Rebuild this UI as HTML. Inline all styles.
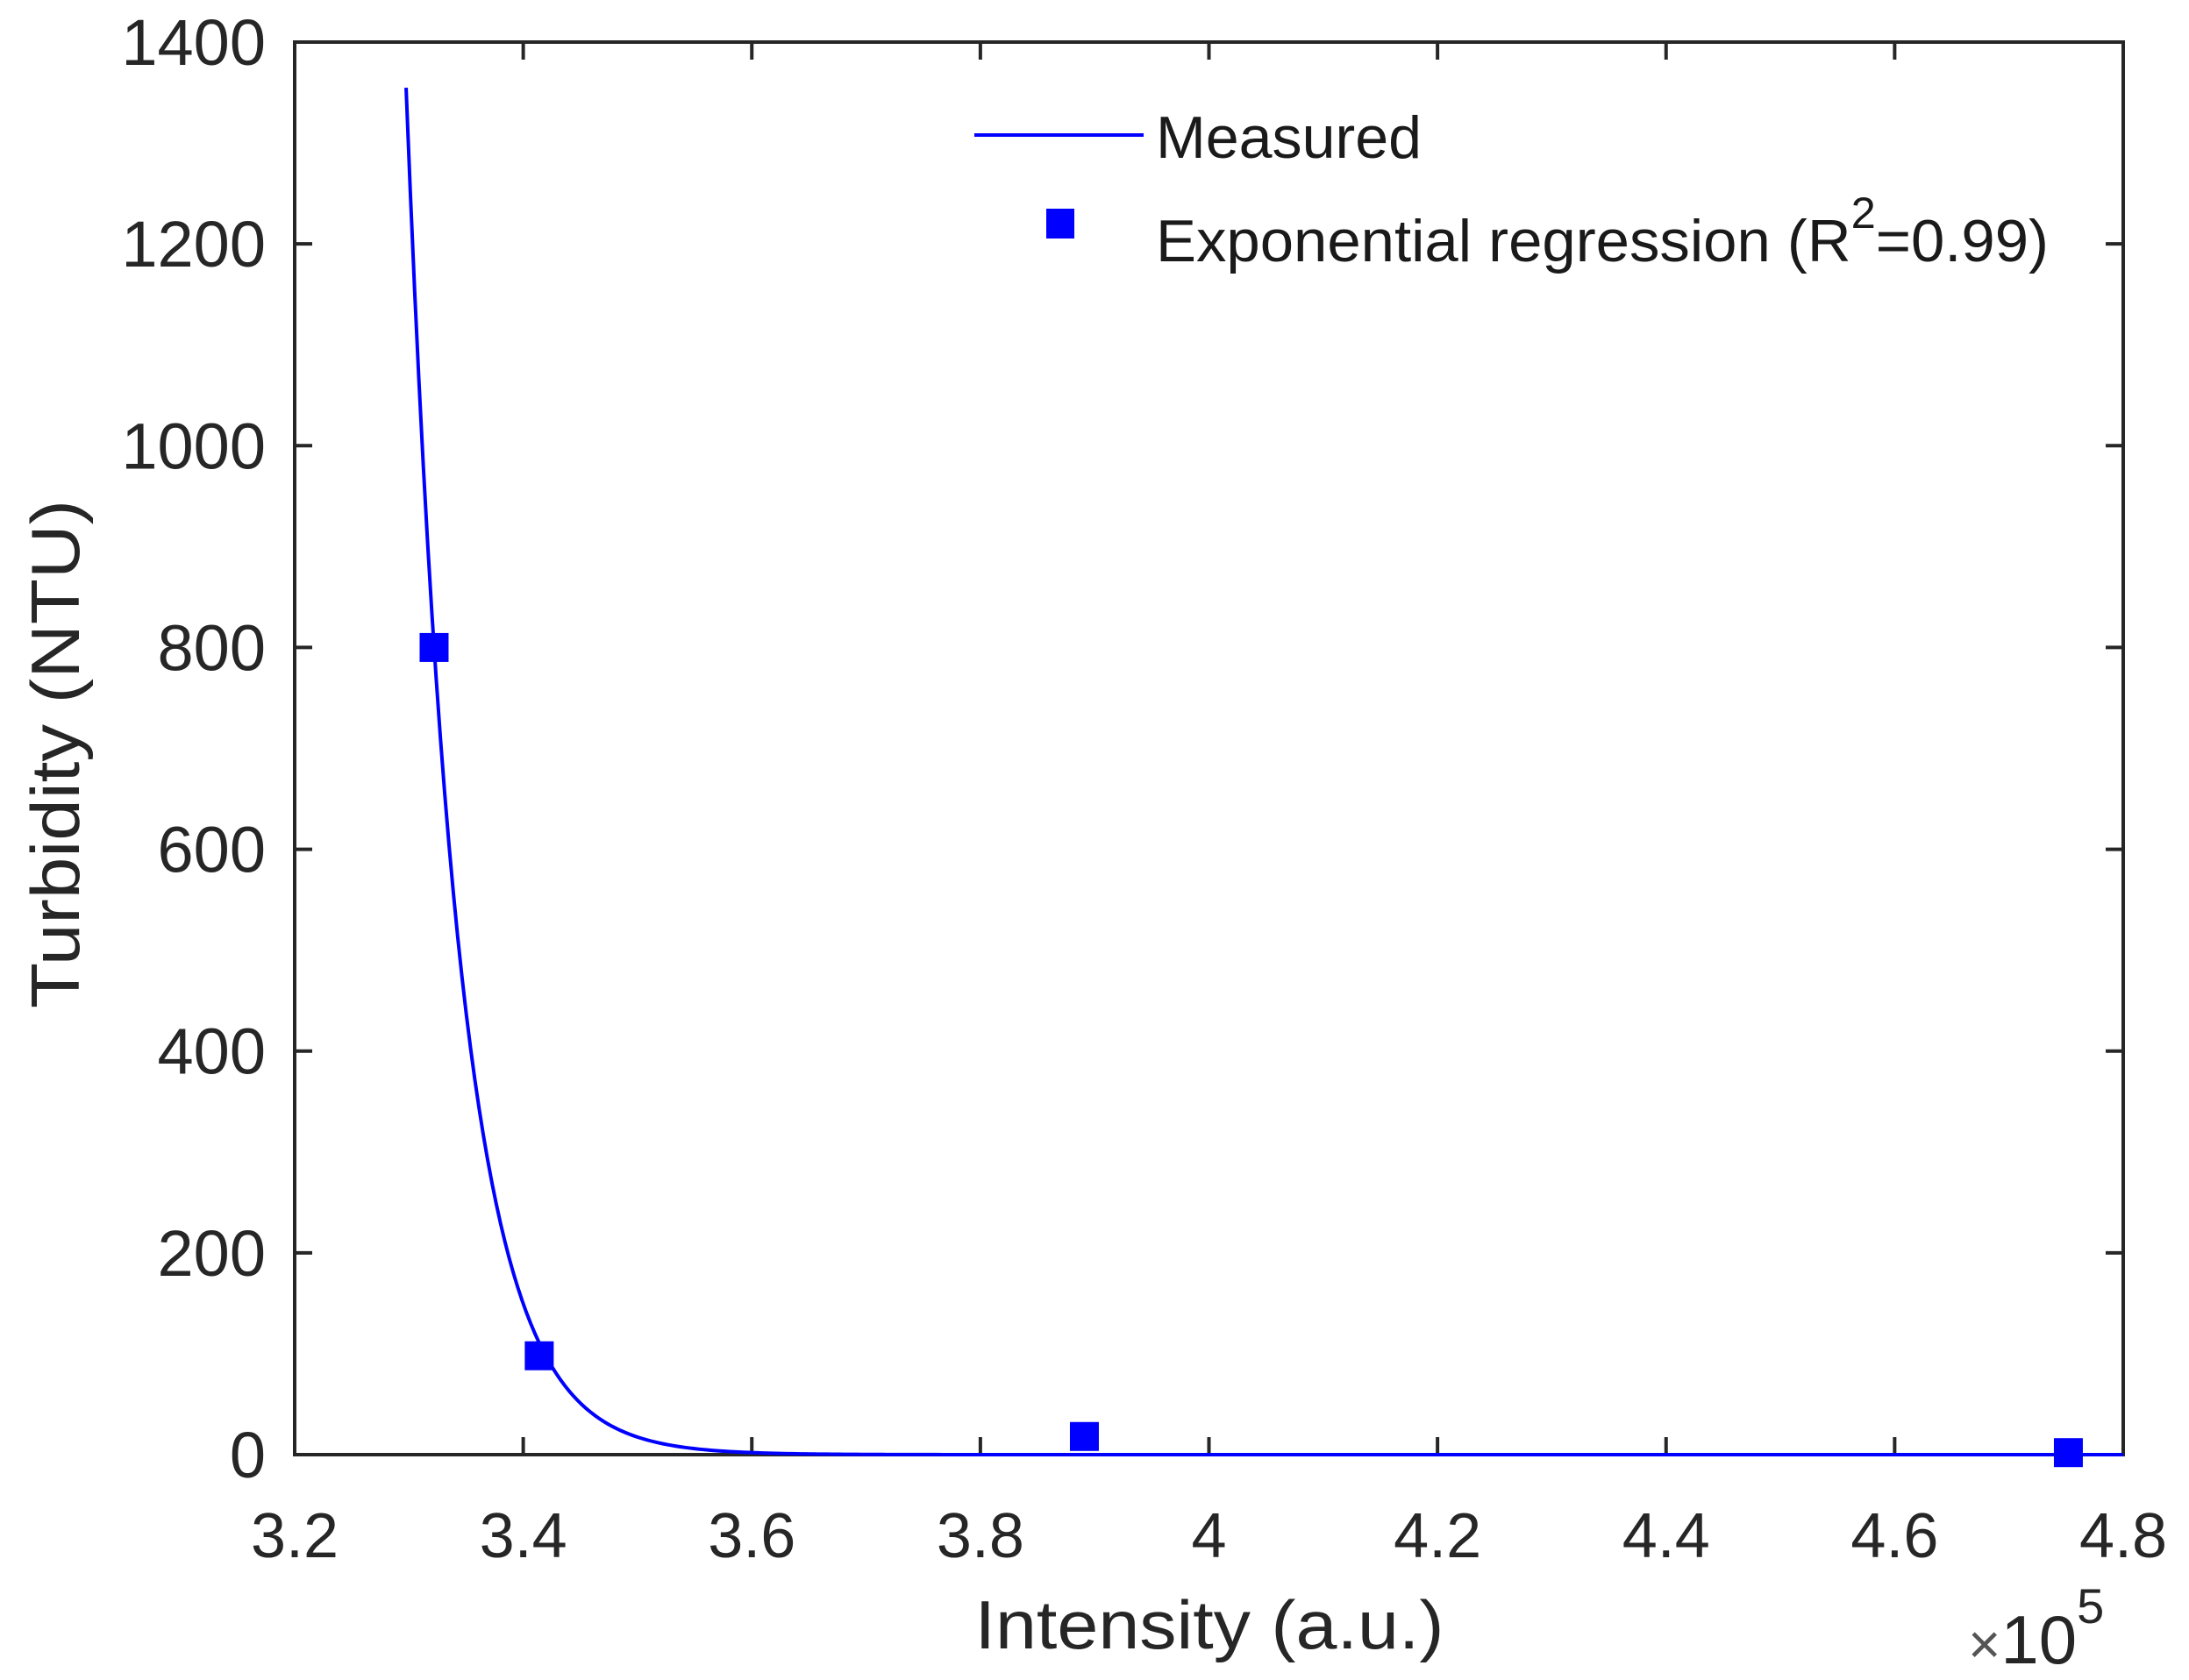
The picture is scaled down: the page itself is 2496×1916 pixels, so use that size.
<!DOCTYPE html>
<html><head><meta charset="utf-8"><style>
html,body{margin:0;padding:0;background:#fff;}
svg{display:block;font-family:"Liberation Sans",Arial,sans-serif;}
</style></head><body>
<svg id="chart" width="2496" height="1916" viewBox="0 0 2496 1916">
<g id="axes"></g>
<g id="series"></g>
<g id="legend">
  <line x1="1111" y1="154" x2="1304" y2="154" stroke="#0000ff" stroke-width="4"/>
  <text x="1318" y="180" font-size="68" fill="#1a1a1a" textLength="303" lengthAdjust="spacingAndGlyphs">Measured</text>
  <rect x="1193" y="238" width="32" height="34" fill="#0000ff"/>
  <text x="1318" y="298" font-size="68" fill="#1a1a1a" textLength="1018" lengthAdjust="spacingAndGlyphs"><tspan>Exponential regression (R</tspan><tspan dy="-38" font-size="50">2</tspan><tspan dy="38">=0.99)</tspan></text>
</g>
<text x="90" y="860" font-size="78" fill="#262626" text-anchor="middle" transform="rotate(-90 90 860)" textLength="580" lengthAdjust="spacingAndGlyphs">Turbidity (NTU)</text>
<text x="1379" y="1880" font-size="78" fill="#262626" text-anchor="middle" textLength="535" lengthAdjust="spacingAndGlyphs">Intensity (a.u.)</text>
<text x="2244" y="1897" font-size="78" fill="#262626"><tspan font-size="64" fill="#555">×</tspan><tspan>10</tspan><tspan dy="-46" font-size="56">5</tspan></text>
</svg>
<script>
const xTicks = [3.2,3.4,3.6,3.8,4.0,4.2,4.4,4.6,4.8];
const xTickLabels = ["3.2","3.4","3.6","3.8","4","4.2","4.4","4.6","4.8"];
const yTicks = [0,200,400,600,800,1000,1200,1400];
const yTickLabels = ["0","200","400","600","800","1000","1200","1400"];
const pointX = [3.322,3.414,3.891,4.752];
const pointY = [800,98,18,2];
// regression curve parameters: y = fitA * exp(-fitK*(x - fitX0))
const fitA = [800];
const fitX0 = [3.322];
const fitK = [21.5];
const curveRange = [3.2975,4.8];

const L=336,R=2421,T=48,B=1659;
const xMin=3.2,xMax=4.8,yMin=0,yMax=1400;
const sx=v=>L+(v-xMin)/(xMax-xMin)*(R-L);
const sy=v=>B-(v-yMin)/(yMax-yMin)*(B-T);
const NS='http://www.w3.org/2000/svg';
function mk(tag,attrs,parent){const e=document.createElementNS(NS,tag);for(const k in attrs)e.setAttribute(k,attrs[k]);parent.appendChild(e);return e;}
const axes=document.getElementById('axes'), series=document.getElementById('series');

const frame=mk('rect',{x:L,y:T,width:R-L,height:B-T,fill:'none',stroke:'#262626','stroke-width':4},axes);



xTicks.forEach((v,i)=>{
  const x=sx(v);
  const t1=mk('line',{x1:x,y1:B,x2:x,y2:B-20,stroke:'#262626','stroke-width':4},axes);
  
  
  const t2=mk('line',{x1:x,y1:T,x2:x,y2:T+20,stroke:'#262626','stroke-width':4},axes);
  
  
  const lb=mk('text',{x:x,y:1776,'font-size':72,fill:'#262626','text-anchor':'middle'},axes);
  lb.textContent=xTickLabels[i];
  
  
});
yTicks.forEach((v,i)=>{
  const y=sy(v);
  const t1=mk('line',{x1:L,y1:y,x2:L+20,y2:y,stroke:'#262626','stroke-width':4},axes);
  
  
  const t2=mk('line',{x1:R,y1:y,x2:R-20,y2:y,stroke:'#262626','stroke-width':4},axes);
  
  
  const lb=mk('text',{x:303,y:y+26,'font-size':74,fill:'#262626','text-anchor':'end'},axes);
  lb.textContent=yTickLabels[i];
  
  
});

let d='';
const n=400;
for(let i=0;i<=n;i++){
  const x=curveRange[0]+(curveRange[1]-curveRange[0])*i/n;
  const y=fitA[0]*Math.exp(-fitK[0]*(x-fitX0[0]));
  d+=(i?'L':'M')+sx(x).toFixed(2)+' '+sy(Math.min(y,yMax)).toFixed(2);
}
const path=mk('path',{d:d,fill:'none',stroke:'#0000ff','stroke-width':4},series);



pointX.forEach((v,i)=>{
  const s=33;
  const r=mk('rect',{x:sx(v)-s/2,y:sy(pointY[i])-s/2,width:s,height:s,fill:'#0000ff'},series);
  
  
});
</script>
</body></html>
